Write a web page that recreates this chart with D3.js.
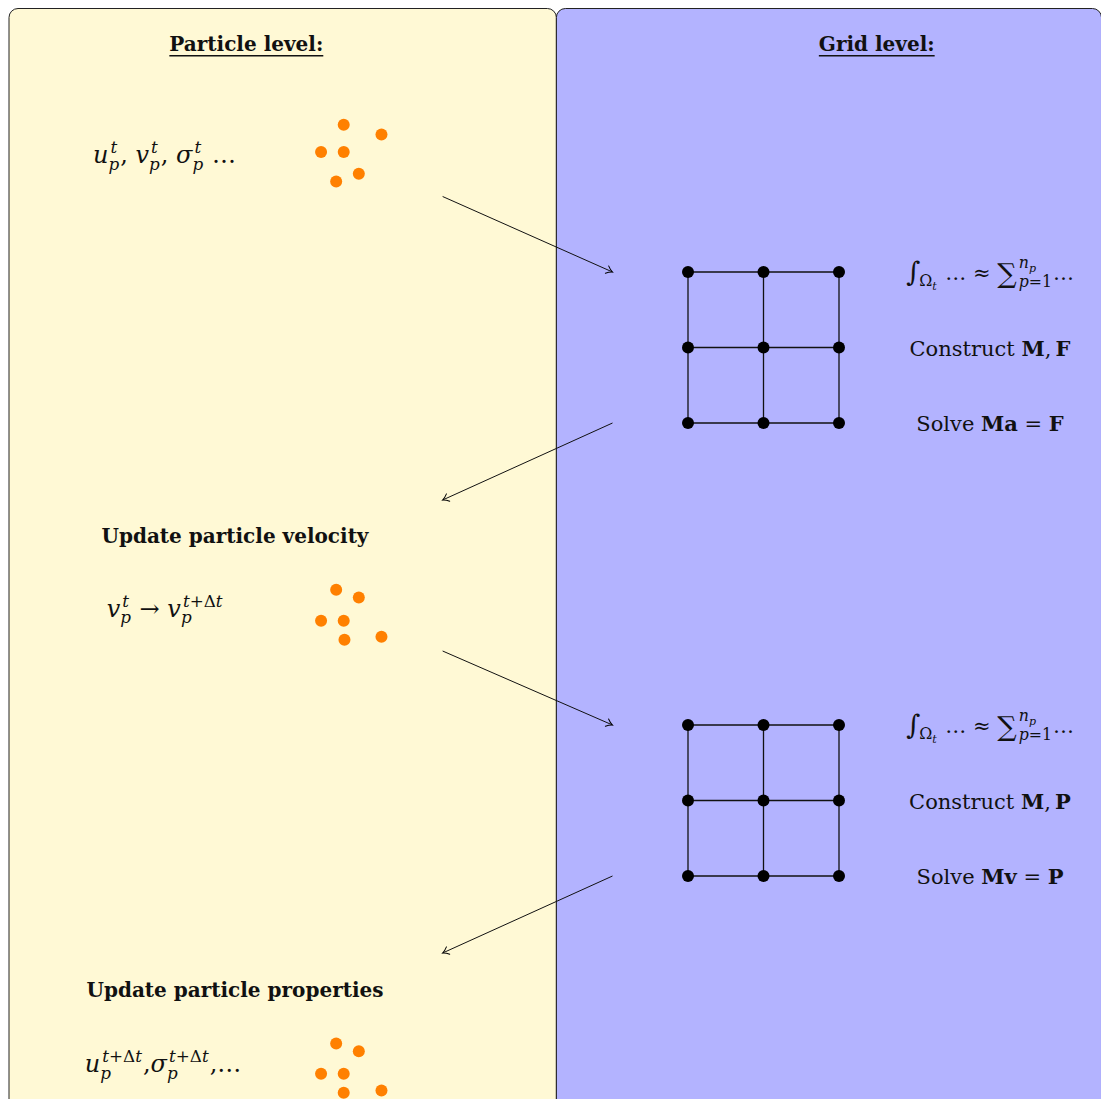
<!DOCTYPE html>
<html>
<head>
<meta charset="utf-8">
<script src="https://cdn.jsdelivr.net/npm/d3@7"></script>
<style>
  html, body { margin: 0; padding: 0; background: #fff; overflow: hidden; }
  text { white-space: pre; }
</style>
</head>
<body>
<svg></svg>
<script>
let w = 1101;
let h = 1099;

// ---- data (diagram units, one unit = one grid cell) ----
const panels = [
  { name: "Particle level:", x0: -9.0, x1: -1.75, fill: "#fff9d5", titleX: -5.85 },
  { name: "Grid level:", x0: -1.75, x1: 5.47, fill: "#b3b3ff", titleX: 2.5 }
];
const panelTop = -3.49;
const titleY = -2.93;

const gridCols = [0, 1, 2];
const gridRows = [0, 1, 2];
const gridOffsets = [0, 6];   // vertical position of each grid

// particle clouds [x, y]
const particles1 = [[-4.56, -1.95], [-4.06, -1.82], [-4.86, -1.59], [-4.56, -1.59], [-4.36, -1.30], [-4.66, -1.20]];
const particles2 = [[-4.66, 4.21], [-4.36, 4.31], [-4.86, 4.62], [-4.56, 4.62], [-4.55, 4.87], [-4.06, 4.83]];
const particles3 = [[-4.66, 10.22], [-4.36, 10.32], [-4.86, 10.62], [-4.56, 10.62], [-4.56, 10.87], [-4.06, 10.84]];

// arrows [from, to]
const arrows = [
  [[-3.25, -1.0], [-1.0, 0.0]],
  [[-1.0, 2.0], [-3.25, 3.02]],
  [[-3.25, 5.02], [-1.0, 6.0]],
  [[-1.0, 8.0], [-3.25, 9.02]]
];

const stepLabels = ["Update particle velocity", "Update particle properties"];
const stepLabelY = [3.59, 9.6];
const stepLabelX = -6.0;

const rhsVectors = ["F", "P"];
const unknowns = ["a", "v"];
const opsX = 4.0;
const opsDy = 0.11;   // baseline offset below each grid row

const mathX = [-7.88, -7.7, -7.99];
const mathY = [-1.44, 4.57, 10.6];

// ---- scales ----
const x = d3.scaleLinear().domain([0, 1]).range([688, 763.5]);
const y = d3.scaleLinear().domain([0, 1]).range([272, 347.5]);

var svg = d3.select("svg").attr("width", w).attr("height", h);

// arrow head like tikz "->"
svg.append("defs").append("marker")
    .attr("id", "tip")
    .attr("viewBox", "-8 -5 10 10")
    .attr("markerWidth", 10).attr("markerHeight", 10)
    .attr("markerUnits", "userSpaceOnUse")
    .attr("refX", 0).attr("refY", 0)
    .attr("orient", "auto")
    .append("path")
    .attr("d", "M-6,-4 C-3.5,-1.6 -1.2,-0.4 0,0 C-1.2,0.4 -3.5,1.6 -6,4")
    .attr("fill", "none").attr("stroke", "#000").attr("stroke-width", 1)
    .attr("stroke-linecap", "round");

// panels
svg.append("g").selectAll("rect")
    .data(panels)
    .enter().append("rect")
    .attr("x", d => x(d.x0) + 0.5)
    .attr("y", y(panelTop))
    .attr("width", d => x(d.x1) - x(d.x0))
    .attr("height", h + 40)
    .attr("rx", 9).attr("ry", 9)
    .attr("fill", d => d.fill)
    .attr("stroke", "#222").attr("stroke-width", 1);

const FONT = "DejaVu Serif";

// titles, bold + underline
panels.forEach(p => {
    const t = svg.append("text")
        .attr("x", x(p.titleX)).attr("y", y(titleY))
        .attr("text-anchor", "middle")
        .attr("font-family", FONT).attr("font-weight", "bold").attr("font-size", 20)
        .attr("fill", "#111")
        .text(p.name);
    const tw = t.node().getComputedTextLength();
    svg.append("line")
        .attr("x1", x(p.titleX) - tw / 2).attr("x2", x(p.titleX) + tw / 2)
        .attr("y1", y(titleY) + 5).attr("y2", y(titleY) + 5)
        .attr("stroke", "#111").attr("stroke-width", 1.5);
});

// step labels
svg.append("g").selectAll("text")
    .data(stepLabels)
    .enter().append("text")
    .attr("x", x(stepLabelX))
    .attr("y", (d, i) => y(stepLabelY[i]))
    .attr("text-anchor", "middle")
    .attr("font-family", FONT).attr("font-weight", "bold").attr("font-size", 20)
    .attr("fill", "#111")
    .text(d => d);

// arrows
svg.append("g").selectAll("line")
    .data(arrows)
    .enter().append("line")
    .attr("x1", d => x(d[0][0])).attr("y1", d => y(d[0][1]))
    .attr("x2", d => x(d[1][0])).attr("y2", d => y(d[1][1]))
    .attr("stroke", "#111").attr("stroke-width", 1)
    .attr("marker-end", "url(#tip)");

// grids
gridOffsets.forEach(off => {
    const g = svg.append("g");
    gridRows.forEach(r => {
        g.append("line")
            .attr("x1", x(gridCols[0])).attr("x2", x(gridCols[gridCols.length - 1]))
            .attr("y1", y(off + r)).attr("y2", y(off + r))
            .attr("stroke", "#111").attr("stroke-width", 1.3);
    });
    gridCols.forEach(c => {
        g.append("line")
            .attr("x1", x(c)).attr("x2", x(c))
            .attr("y1", y(off + gridRows[0])).attr("y2", y(off + gridRows[gridRows.length - 1]))
            .attr("stroke", "#111").attr("stroke-width", 1.3);
    });
    const nodes = d3.cross(gridCols, gridRows);
    g.selectAll("circle")
        .data(nodes)
        .enter().append("circle")
        .attr("cx", d => x(d[0]))
        .attr("cy", d => y(off + d[1]))
        .attr("r", 6)
        .attr("fill", "#000");
});

// particles
[particles1, particles2, particles3].forEach(set => {
    svg.append("g").selectAll("circle")
        .data(set)
        .enter().append("circle")
        .attr("cx", d => x(d[0]))
        .attr("cy", d => y(d[1]))
        .attr("r", 6)
        .attr("fill", "#ff8000");
});

// ---- little math typesetter ----
// item: {t, f} text run ('i' italic, 'r' roman, 'b' bold), or {sup:[..], sub:[..]}
function lay(g, items, x0, base, size) {
    let cx = x0;
    items.forEach(it => {
        if (it.t !== undefined) {
            const el = g.append("text")
                .attr("x", cx).attr("y", base + (it.dy || 0))
                .attr("font-family", FONT)
                .attr("font-size", size * (it.s || 1))
                .attr("font-style", it.f === "i" ? "italic" : "normal")
                .attr("font-weight", it.f === "b" ? "bold" : "normal")
                .attr("fill", "#111")
                .text(it.t);
            cx += el.node().getComputedTextLength() + (it.k || 0);
        } else {
            const s = size * (it.sc || 0.7);
            let w1 = 0, w2 = 0;
            if (it.sup) w1 = lay(g, it.sup, cx + (it.supk || 0), base - size * (it.up || 0.42), s) - cx;
            if (it.sub) w2 = lay(g, it.sub, cx, base + size * (it.down || 0.26), s) - cx;
            cx += Math.max(w1, w2) + 1;
        }
    });
    return cx;
}

function math(items, px, py, size, anchor) {
    const g = svg.append("g");
    const width = lay(g, items, 0, 0, size);
    const dx = anchor === "middle" ? px - width / 2 : px;
    g.attr("transform", "translate(" + dx + "," + py + ")");
    return g;
}

const tp = { sup: [{ t: "t", f: "i" }], sub: [{ t: "p", f: "i" }], supk: 2 };
const tdp = { sup: [{ t: "t", f: "i" }, { t: "+Δ", f: "r" }, { t: "t", f: "i" }], sub: [{ t: "p", f: "i" }], supk: 2 };

math([
    { t: "u", f: "i" }, tp, { t: ", ", f: "r" },
    { t: "v", f: "i" }, tp, { t: ", ", f: "r" },
    { t: "σ", f: "i" }, tp, { t: " …", f: "r" }
], x(mathX[0]), y(mathY[0]), 24);

math([
    { t: "v", f: "i" }, tp, { t: " → ", f: "r" },
    { t: "v", f: "i" }, tdp
], x(mathX[1]), y(mathY[1]), 24);

math([
    { t: "u", f: "i" }, tdp, { t: ",", f: "r" },
    { t: "σ", f: "i" }, tdp, { t: ",…", f: "r" }
], x(mathX[2]), y(mathY[2]), 24);

// grid side operations
gridOffsets.forEach((off, i) => {
    math([
        { t: "∫", f: "r", s: 1.3, dy: 1, k: -1 },
        { sub: [{ t: "Ω", f: "r" }, { sub: [{ t: "t", f: "i" }] }], sc: 0.75 },
        { t: " … ≈ ", f: "r" },
        { t: "∑", f: "r", s: 1.3, dy: 3, k: 2 },
        { sup: [{ t: "n", f: "i" }, { sub: [{ t: "p", f: "i" }] }], sub: [{ t: "p", f: "i" }, { t: "=1", f: "r" }],
          sc: 0.75, up: 0.6, down: 0.3 },
        { t: "…", f: "r" }
    ], x(opsX), y(off + gridRows[0] + opsDy), 21, "middle");

    math([
        { t: "Construct ", f: "r" }, { t: "M", f: "b" }, { t: ",\u2009", f: "r" }, { t: rhsVectors[i], f: "b" }
    ], x(opsX), y(off + gridRows[1] + opsDy), 21, "middle");

    math([
        { t: "Solve ", f: "r" }, { t: "M" + unknowns[i], f: "b" }, { t: " = ", f: "r" }, { t: rhsVectors[i], f: "b" }
    ], x(opsX), y(off + gridRows[2] + opsDy), 21, "middle");
});
</script>
</body>
</html>
